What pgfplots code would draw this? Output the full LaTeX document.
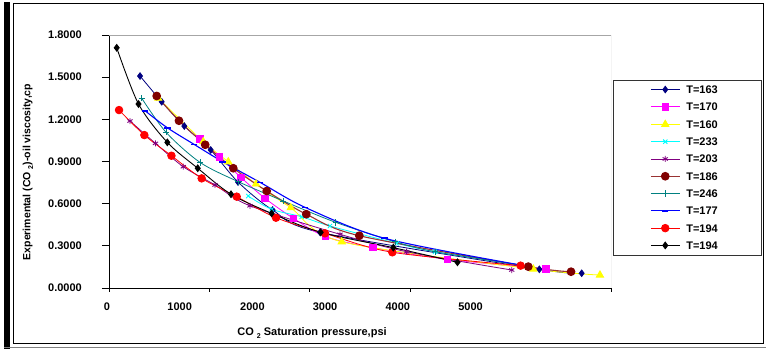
\documentclass[border=0pt]{standalone}
\usepackage{pgfplots}
\pgfplotsset{compat=1.18}
\usepackage{fontspec}
\setmainfont{Liberation Sans}
\definecolor{cnavy}{HTML}{000080}
\definecolor{cmag}{HTML}{FF00FF}
\definecolor{cyel}{HTML}{FFFF00}
\definecolor{ccyan}{HTML}{00FFFF}
\definecolor{cpur}{HTML}{800080}
\definecolor{cbrown}{HTML}{800000}
\definecolor{cbrownl}{HTML}{993333}
\definecolor{cteal}{HTML}{008080}
\definecolor{cblue}{HTML}{0000FF}
\definecolor{cred}{HTML}{FF0000}
\newcommand{\tfont}{\fontsize{11}{13}\selectfont\bfseries}
\begin{document}
\begin{tikzpicture}
\path[use as bounding box] (0pt,0pt) rectangle (768pt,-352pt);
% outer frame
\fill[black] (4pt,-2pt) rectangle (10pt,-349pt);
\draw[gray, line width=1.5pt] (4pt,-347.5pt) -- (766pt,-347.5pt);
\draw[black, line width=0.8pt] (13pt,-3pt) rectangle (763pt,-343pt);

\begin{axis}[
  at={(109pt,-288pt)}, anchor=south west, scale only axis,
  width=502pt, height=253pt,
  xmin=0, xmax=5000, ymin=0, ymax=1.8,
  axis lines*=left,
  axis line style={black, line width=0.9pt},
  xtick={0,1000,2000,3000,4000,5000},
  ytick={0,0.3,0.6,0.9,1.2,1.5,1.8},
  xticklabels={}, yticklabels={},
  tick align=outside,
  xtick style={black, line width=0.8pt, /pgfplots/major tick length=4pt},
  ytick style={black, line width=0.8pt, /pgfplots/major tick length=7pt},
  legend image code/.code={\draw[mark repeat=2,mark phase=2,#1] plot coordinates {(0pt,0pt) (14.5pt,0pt) (29pt,0pt)};},
  legend style={draw=none, fill=none, inner sep=0pt,
    at={(axis description cs:1.0777,0.801)}, anchor=north west,
    row sep=9.3pt, column sep=6pt,
    nodes={inner sep=0pt, text height=8pt, text depth=0pt, font=\tfont}},
  legend cell align=left,
]
\draw[gray!70, line width=0.8pt] (rel axis cs:0,1) -- (rel axis cs:1,1) -- (rel axis cs:1,0);

% T=163
\addplot[cnavy, line width=0.8pt, smooth, mark=diamond*, mark size=3.3pt, mark options={solid, fill=cnavy}] coordinates {
(309,1.508) (525,1.325) (750,1.152) (1013,0.982) (1285,0.754) (1630,0.555) (2102,0.396) (4286,0.133) (4708,0.105)};
\addlegendentry{T=163}
% T=170
\addplot[cmag, line width=0.8pt, smooth, mark=square*, mark size=3.2pt, mark options={solid, fill=cmag}] coordinates {
(906,1.060) (1099,0.934) (1312,0.788) (1554,0.638) (1836,0.496) (2158,0.365) (2627,0.287) (3373,0.204) (4353,0.135)};
\addlegendentry{T=170}
% T=160
\addplot[cyel, line width=0.8pt, smooth, mark=triangle*, mark size=4.2pt, mark options={solid, fill=cyel}] coordinates {
(491,1.350) (939,1.041) (1188,0.898) (1464,0.740) (1810,0.571) (2318,0.329) (4226,0.135) (4890,0.092)};
\addlegendentry{T=160}
% T=233
\addplot[ccyan, line width=0.8pt, smooth, mark=x, mark size=3pt, mark options={solid, line width=0.9pt}] coordinates {
(1387,0.654) (1620,0.560) (1919,0.507) (2201,0.441) (2865,0.318) (3247,0.258) (4094,0.164)};
\addlegendentry{T=233}
% T=203
\addplot[cpur, line width=0.8pt, smooth, mark=asterisk, mark size=3pt, mark options={solid, line width=0.9pt}] coordinates {
(209,1.188) (463,1.029) (740,0.863) (1056,0.733) (1404,0.585) (2301,0.382) (2965,0.258) (4011,0.128)};
\addlegendentry{T=203}
% T=186
\addplot[cbrownl, line width=1.1pt, smooth, mark=*, mark size=3.8pt, mark options={solid, fill=cbrown, draw=cbrown}] coordinates {
(475,1.366) (697,1.190) (958,1.019) (1238,0.852) (1571,0.690) (1965,0.525) (2493,0.372) (4176,0.152) (4602,0.116)};
\addlegendentry{T=186}
% T=246
\addplot[cteal, line width=0.8pt, smooth, mark=+, mark size=3.2pt, mark options={solid, line width=0.9pt}] coordinates {
(326,1.350) (568,1.108) (906,0.894) (1288,0.756) (1736,0.619) (2258,0.467) (2849,0.329) (3247,0.258) (4094,0.164)};
\addlegendentry{T=246}
% T=177
\addplot[cblue, line width=1.1pt, smooth, mark=-, mark size=3.2pt, mark options={solid, line width=1.6pt}] coordinates {
(359,1.261) (581,1.140) (847,1.022) (1132,0.898) (1504,0.752) (1952,0.574) (2742,0.354) (4094,0.164)};
\addlegendentry{T=177}
% T=194 red
\addplot[cred, line width=0.8pt, smooth, mark=*, mark size=3.8pt, mark options={solid, fill=cred}] coordinates {
(100,1.266) (352,1.088) (622,0.941) (923,0.780) (1272,0.650) (1663,0.500) (2151,0.389) (2822,0.254) (4100,0.159)};
\addlegendentry{T=194}
% T=194 black
\addplot[black, line width=0.9pt, smooth, mark=diamond*, mark size=3.3pt, mark options={solid, fill=black}] coordinates {
(77,1.709) (294,1.309) (581,1.036) (884,0.852) (1215,0.667) (1620,0.531) (2109,0.396) (2832,0.287) (3471,0.183)};
\addlegendentry{T=194}
\end{axis}

% axis for the tick labels
\begin{axis}[
  at={(109pt,-288pt)}, anchor=south west, scale only axis,
  width=502pt, height=253pt,
  xmin=0, xmax=6905, ymin=0, ymax=1.8,
  axis line style={draw=none}, tick style={draw=none},
  major tick length=0pt,
  xtick={0,1000,2000,3000,4000,5000},
  ytick={0,0.3,0.6,0.9,1.2,1.5,1.8},
  /pgf/number format/assume math mode=true,
  xticklabel={\pgfmathprintnumber[1000 sep={},assume math mode=true]{\tick}},
  yticklabel={\pgfmathprintnumber[fixed,fixed zerofill,precision=4,assume math mode=true]{\tick}},
  xticklabel style={anchor=north, inner sep=0pt, yshift=-14.7pt, xshift=-2pt, font=\tfont},
  yticklabel style={anchor=east, inner sep=0pt, xshift=-27pt, font=\tfont},
]
\addplot[draw=none, forget plot] coordinates {(0,0)};
\end{axis}

\draw[black!80, line width=0.8pt] (613pt,-80pt) rectangle (761pt,-255pt);

\node[font=\tfont, anchor=center] at (312pt,-333pt) {CO \raisebox{-0.5ex}{\fontsize{7}{8}\selectfont 2} Saturation pressure,psi};
\node[font=\fontsize{10.5}{12}\selectfont\bfseries, rotate=90, anchor=center] at (28pt,-172pt) {Experimental (CO \raisebox{-0.5ex}{\fontsize{7}{8}\selectfont 2})-oil viscosity,cp};
\end{tikzpicture}
\end{document}
